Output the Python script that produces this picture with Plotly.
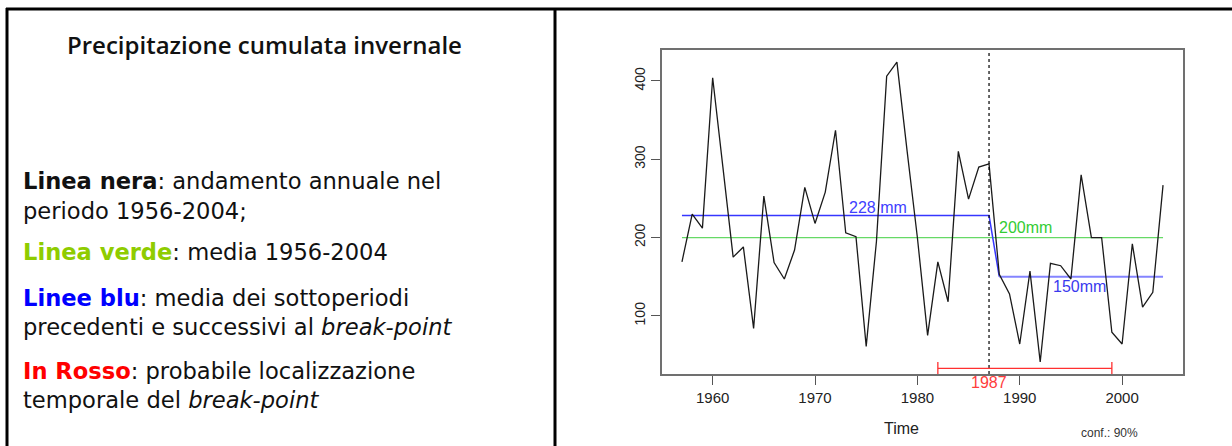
import plotly.graph_objects as go

W, H = 1232, 446

# ---- data ----
years = list(range(1957, 2005))
precip = [169, 230, 212, 404, 290, 175, 188, 84, 253, 168,
          147, 184, 264, 218, 258, 337, 206, 201, 61, 195,
          406, 424, 310, 200, 75, 169, 118, 310, 249, 290,
          294, 153, 128, 64, 157, 41, 167, 164, 147, 280,
          200, 200, 79, 64, 192, 111, 130, 267]
overall_mean = 200
break_year = 1987
mean_before = 228
mean_after = 150
ci_low, ci_high = 1982, 1999
ci_level_y = 33
x_ticks = [1960, 1970, 1980, 1990, 2000]
y_ticks = [100, 200, 300, 400]

fitted = [mean_before if y <= break_year else mean_after for y in years]


def px(x):
    return x / W


def py(y):
    return 1 - y / H


fig = go.Figure()

# overall mean (green)
fig.add_trace(go.Scatter(x=[years[0], years[-1]], y=[overall_mean, overall_mean],
                         mode="lines", line=dict(color="#66d966", width=1.3),
                         hoverinfo="skip", showlegend=False))
# segment means (blue)
fig.add_trace(go.Scatter(x=[y for y in years if y <= break_year + 1],
                         y=[f for y, f in zip(years, fitted) if y <= break_year + 1],
                         mode="lines", line=dict(color="#3636ff", width=1.5),
                         hoverinfo="skip", showlegend=False))
fig.add_trace(go.Scatter(x=[y for y in years if y >= break_year + 1],
                         y=[f for y, f in zip(years, fitted) if y >= break_year + 1],
                         mode="lines", line=dict(color="#8484ff", width=2),
                         hoverinfo="skip", showlegend=False))
# series (black)
fig.add_trace(go.Scatter(x=years, y=precip, mode="lines",
                         line=dict(color="#1a1a1a", width=1.3),
                         showlegend=False))
# break-point vertical dashed line
fig.add_trace(go.Scatter(x=[break_year, break_year], y=[25.7, 439.5], mode="lines",
                         line=dict(color="#000000", width=1.2, dash="3px,3px"),
                         hoverinfo="skip", showlegend=False))
# confidence interval (red)
fig.add_trace(go.Scatter(x=[ci_low, ci_high], y=[ci_level_y, ci_level_y], mode="lines+markers",
                         line=dict(color="#ff3030", width=1.3),
                         marker=dict(symbol="line-ns-open", size=9,
                                     line=dict(color="#ff3030", width=1.3)),
                         hoverinfo="skip", showlegend=False))

fig.update_xaxes(domain=[px(662), px(1183)], range=[1955.05, 2005.95],
                 tickvals=x_ticks, ticks="outside", ticklen=9, tickwidth=1.3,
                 tickcolor="#555", showline=True, linecolor="#707070", linewidth=1.6,
                 mirror=True, showgrid=False, zeroline=False,
                 tickfont=dict(family="Liberation Sans", size=15, color="#222"),
                 ticklabelstandoff=0)
fig.update_yaxes(domain=[py(374), py(50)], range=[25.7, 439.5],
                 tickvals=y_ticks, ticks="outside", ticklen=9, tickwidth=1.3,
                 tickcolor="#555", showline=True, linecolor="#707070", linewidth=1.6,
                 mirror=True, showgrid=False, zeroline=False, tickangle=-90,
                 tickfont=dict(family="Liberation Sans", size=14, color="#222"),
                 ticklabelstandoff=1)

lab_font = "Liberation Sans"
ann = []
# chart text labels
ann.append(dict(x=1973.1, y=mean_before, xref="x", yref="y", text="228 mm", showarrow=False,
                xanchor="left", yanchor="bottom", yshift=-2,
                font=dict(family=lab_font, size=16, color="#4040ff")))
ann.append(dict(x=1987.8, y=overall_mean, xref="x", yref="y", text="200mm", showarrow=False,
                xanchor="left", yanchor="bottom", yshift=0,
                font=dict(family=lab_font, size=16, color="#33cc33")))
ann.append(dict(x=1993.1, y=mean_after, xref="x", yref="y", text="150mm", showarrow=False,
                xanchor="left", yanchor="top", yshift=1,
                font=dict(family=lab_font, size=16, color="#3a3aee")))
ann.append(dict(x=break_year, y=py(382), xref="x", yref="paper", text="1987", showarrow=False,
                yanchor="middle", font=dict(family=lab_font, size=16, color="#ff3c3c")))
ann.append(dict(x=px(921), y=py(428), xref="paper", yref="paper", text="Time", showarrow=False,
                yanchor="middle", font=dict(family=lab_font, size=16, color="#222")))
ann.append(dict(x=px(1140), y=py(433), xref="paper", yref="paper", text="conf.: 90%", showarrow=False,
                yanchor="middle", font=dict(family=lab_font, size=12, color="#333")))

# left panel text
body_font = "DejaVu Sans"
ann.append(dict(x=px(264), y=py(45), xref="paper", yref="paper",
                text="Precipitazione cumulata invernale", showarrow=False,
                xanchor="center", yanchor="middle",
                font=dict(family="Open Sans", size=24, weight=600, color="#111")))
lines = [
    (181, "<b>Linea nera</b>: andamento annuale nel"),
    (211, "periodo 1956-2004;"),
    (252, "<span style='color:#8fcc00'><b>Linea verde</b></span>: media 1956-2004"),
    (298, "<span style='color:#0000ff'><b>Linee blu</b></span>: media dei sottoperiodi"),
    (327, "precedenti e successivi al <i>break-point</i>"),
    (371, "<span style='color:#ff0000'><b>In Rosso</b></span>: probabile localizzazione"),
    (400, "temporale del <i>break-point</i>"),
]
for yy, t in lines:
    ann.append(dict(x=px(21), y=py(yy), xref="paper", yref="paper", text=t, showarrow=False,
                    xanchor="left", yanchor="middle",
                    font=dict(family=body_font, size=22.6, color="#111")))

shapes = [
    dict(type="line", xref="paper", yref="paper", x0=px(6), x1=1, y0=py(9), y1=py(9),
         line=dict(color="#000", width=3)),
    dict(type="line", xref="paper", yref="paper", x0=px(7), x1=px(7), y0=py(8), y1=0,
         line=dict(color="#000", width=3)),
    dict(type="line", xref="paper", yref="paper", x0=px(555), x1=px(555), y0=py(8), y1=0,
         line=dict(color="#000", width=3)),
]

fig.update_layout(width=W, height=H, margin=dict(l=0, r=0, t=0, b=0),
                  paper_bgcolor="white", plot_bgcolor="white",
                  annotations=ann, shapes=shapes, showlegend=False)

fig.write_html("out.html")
